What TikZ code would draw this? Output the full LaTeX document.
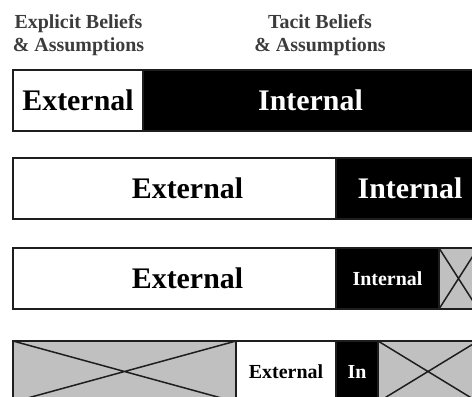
\documentclass[tikz,border=0pt]{standalone}
\usepackage{fontspec}
\setmainfont{Liberation Serif}
\usepackage{xcolor}
\usetikzlibrary{positioning}
\definecolor{crossgray}{HTML}{C0C0C0}
\definecolor{headgray}{HTML}{3C3C3C}
\definecolor{edgegray}{HTML}{1E1E1E}
\tikzset{
  seg/.style={draw=edgegray,line width=1.5bp,rectangle,anchor=north west,inner sep=0pt,outer sep=0pt,minimum height=61bp},
  whiteseg/.style={seg,fill=white,text=black},
  blackseg/.style={seg,fill=black,text=white},
  crossseg/.style={seg,fill=crossgray},
  bigtxt/.style={font=\fontsize{30}{34}\selectfont\bfseries},
  smalltxt/.style={font=\fontsize{20}{24}\selectfont\bfseries},
  headtxt/.style={font=\fontsize{20}{23.5}\selectfont\bfseries,text=headgray,align=center,inner sep=0pt}
}
\begin{document}
\begin{tikzpicture}[x=1bp,y=-1bp]
  \useasboundingbox (0,0) rectangle (472,396);
  \clip (0,0) rectangle (472,396);
  \node[headtxt] (explicit) at (78.5,35) {Explicit Beliefs\\\& Assumptions};
  \node[headtxt] (tacit) at (320,35) {Tacit Beliefs\\\& Assumptions};

  \node[whiteseg,bigtxt,minimum width=130bp] (ext1) at (13,70) {External};
  \node[blackseg,bigtxt,minimum width=335bp] (int1) at (143,70) {Internal};

  \node[whiteseg,minimum width=323bp,label={[bigtxt,xshift=13bp]center:External}] (ext2) at (13,158) {};
  \node[blackseg,bigtxt,minimum width=142bp] (int2) at (336,158) {\hspace{6bp}Internal};

  \node[whiteseg,minimum width=323bp,label={[bigtxt,xshift=13bp]center:External}] (ext3) at (13,248) {};
  \node[blackseg,smalltxt,minimum width=103bp] (int3) at (336,248) {Internal};
  \node[crossseg,minimum width=39bp] (cross3) at (439,248) {};

  \node[crossseg,minimum width=223bp] (cross4a) at (13,341) {};
  \node[whiteseg,smalltxt,minimum width=100bp] (ext4) at (236,341) {External};
  \node[blackseg,smalltxt,minimum width=42bp] (int4) at (336,341) {In};
  \node[crossseg,minimum width=100bp] (cross4b) at (378,341) {};

  \foreach \c in {cross3,cross4a,cross4b}{
    \draw[line width=1.5bp,edgegray] (\c.north west) -- (\c.south east) (\c.south west) -- (\c.north east);
  }
\end{tikzpicture}
\end{document}
